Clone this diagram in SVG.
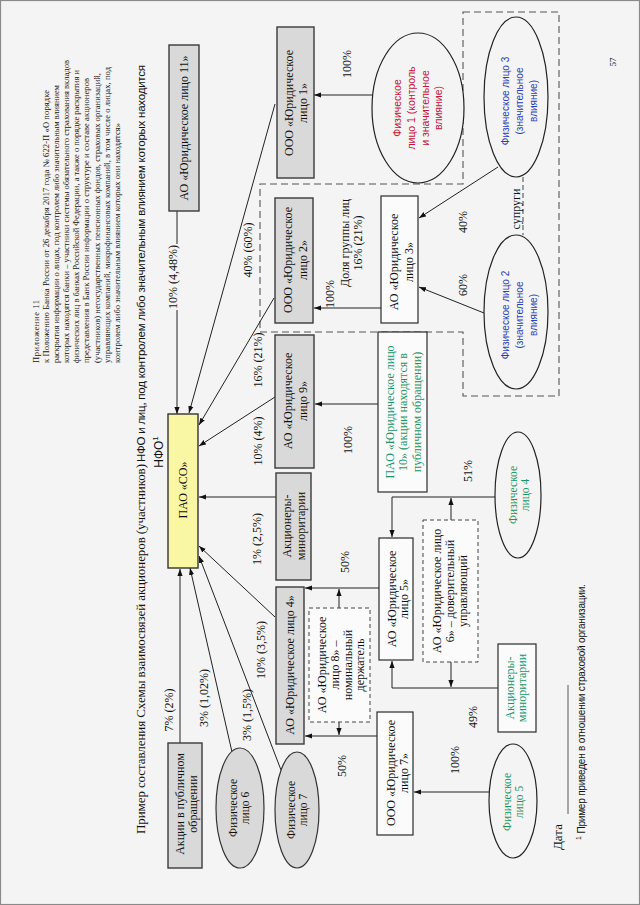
<svg xmlns="http://www.w3.org/2000/svg" width="640" height="905" viewBox="0 0 640 905">
<defs>
<marker id="a" viewBox="0 0 10 10" refX="10" refY="5" markerWidth="7" markerHeight="7" markerUnits="userSpaceOnUse" orient="auto"><path d="M0,1.3 L10,5 L0,8.7 z" fill="#111"/></marker>
<style>
.bg{fill:#f3f4f3}
.box{fill:#d9d9d9;stroke:#3a3a3a;stroke-width:1.4}
.wbox{fill:#fbfbfb;stroke:#2a2a2a;stroke-width:1.2}
.dbox{fill:#fbfbfb;stroke:#444;stroke-width:1;stroke-dasharray:4 3}
.ell{fill:#f3f4f3;stroke:#222;stroke-width:1.2}
.gell{fill:#d9d9d9;stroke:#333;stroke-width:1.2}
.yel{fill:#faf7a4;stroke:#333;stroke-width:1.4}
.edge{stroke:#222;stroke-width:1;fill:none;marker-end:url(#a)}
.grp{fill:none;stroke:#555;stroke-width:1.1;stroke-dasharray:7 4}
text{font-family:"Liberation Serif","Times New Roman",serif;font-size:12px;fill:#111;text-anchor:middle}
.sans{font-family:"Liberation Sans",Arial,sans-serif;font-size:10px}
.st{text-anchor:start}
.red{fill:#c0163c}
.blue{fill:#2b3fb5}
.grn{fill:#1a9466}
.hdr{font-size:8.5px}
</style>
</defs>
<rect class="bg" x="0" y="0" width="640" height="905"/>
<rect x="0.5" y="0.5" width="639" height="904" fill="none" stroke="#8a8a8a" stroke-width="1.2"/>

<!-- header -->
<g id="header">
<text class="hdr st" transform="translate(38.5 363) rotate(-90)"><tspan x="0" y="0" textLength="63">Приложение 11</tspan><tspan x="0" y="10.2" textLength="273">к Положению Банка России от 26 декабря 2017 года  № 622-П  «О порядке</tspan><tspan x="0" y="20.2" textLength="278">раскрытия информации о лицах, под контролем либо значительным влиянием</tspan><tspan x="0" y="30.5" textLength="303">которых находятся банки – участники системы обязательного страхования вкладов</tspan><tspan x="0" y="40.5" textLength="293">физических лиц в банках Российской Федерации, а также о порядке раскрытия и</tspan><tspan x="0" y="50.5" textLength="285">представления в Банк России информации  о структуре и составе акционеров</tspan><tspan x="0" y="61.2" textLength="290">(участников) негосударственных пенсионных фондов, страховых организаций,</tspan><tspan x="0" y="71.8" textLength="296">управляющих компаний,  микрофинансовых компаний, в том числе о лицах, под</tspan><tspan x="0" y="81.8" textLength="240">контролем либо значительным влиянием которых они находятся»</tspan></text>
</g>

<g id="title">
<text class="st" style="font-size:13px" transform="translate(145 834) rotate(-90)" textLength="370">Пример составления Схемы взаимосвязей акционеров (участников) </text>
<text class="st sans" style="font-size:11.5px" transform="translate(145 462) rotate(-90)" textLength="397">НФО и лиц, под контролем либо значительным влиянием которых находится</text>
<text class="sans" style="font-size:12px" transform="translate(163 452) rotate(-90)">НФО<tspan dy="-5" style="font-size:8px">1</tspan></text>
</g>

<!-- group boundary -->
<path class="grp" d="M463,12 H559 V396 H463 V332 H260 V184 H463 Z"/>
<line x1="523" y1="177" x2="523" y2="235" stroke="#555" stroke-width="1.1" stroke-dasharray="5 3"/>

<!-- connectors -->
<g id="connectors">
<path class="edge" d="M177,211 V414"/>
<path class="edge" d="M275,104 L189,413"/>
<path class="edge" d="M274,298 L199,425"/>
<path class="edge" d="M275,397 L199,446"/>
<path class="edge" d="M276,497 H199"/>
<path class="edge" d="M275,617 L199,546"/>
<path class="edge" d="M281,770 L199,556"/>
<path class="edge" d="M232,752 L190,568"/>
<path class="edge" d="M180,743 V569"/>
<path class="edge" d="M372,95 H314"/>
<path class="edge" d="M498,167 L419,218"/>
<path class="edge" d="M484,313 L419,287"/>
<path class="edge" d="M381,308 H314"/>
<path class="edge" d="M378,404 H315"/>
<path class="edge" d="M379,588 H305"/>
<path class="edge" d="M339,608 V589"/>
<path class="edge" d="M377,736 H305"/>
<path class="edge" d="M339,722 V735"/>
<path class="edge" d="M495,497 H392 V537"/>
<path class="edge" d="M451,520 V498"/>
<path class="edge" d="M498,688 H392 V661"/>
<path class="edge" d="M451,662 V687"/>
<path class="edge" d="M489,792 H414"/>
</g>

<!-- labels -->
<g id="labels">
<rect class="bg" x="166" y="244" width="16" height="66"/>
<text transform="translate(173 277) rotate(-90)" y="4.2">10% (4,48%)</text>
<text transform="translate(248 250) rotate(-90)" y="4.2">40% (60%)</text>
<text transform="translate(258 360) rotate(-90)" y="4.2">16% (21%)</text>
<text transform="translate(258 441) rotate(-90)" y="4.2">10% (4%)</text>
<text transform="translate(257 539) rotate(-90)" y="4.2">1% (2,5%)</text>
<text transform="translate(261 650) rotate(-90)" y="4.2">10% (3,5%)</text>
<text transform="translate(247 715) rotate(-90)" y="4.2">3% (1,5%)</text>
<text transform="translate(204 698) rotate(-90)" y="4.2">3% (1,02%)</text>
<text transform="translate(169 710) rotate(-90)" y="4.2">7% (2%)</text>
<text transform="translate(347 64) rotate(-90)" y="4.2">100%</text>
<text transform="translate(330 294) rotate(-90)" y="4.2">100%</text>
<text transform="translate(351 243) rotate(-90)"><tspan x="0" y="-2.3">Доля группы лиц</tspan><tspan x="0" y="10.7">16% (21%)</tspan></text>
<text transform="translate(463 222) rotate(-90)" y="4.2">40%</text>
<text transform="translate(463 285) rotate(-90)" y="4.2">60%</text>
<text transform="translate(516 209) rotate(-90)" y="4.2">супруги</text>
<text transform="translate(348 440) rotate(-90)" y="4.2">100%</text>
<text transform="translate(345 562) rotate(-90)" y="4.2">50%</text>
<text transform="translate(342 766) rotate(-90)" y="4.2">50%</text>
<text transform="translate(468 471) rotate(-90)" y="4.2">51%</text>
<text transform="translate(473 717) rotate(-90)" y="4.2">49%</text>
<text transform="translate(455 760) rotate(-90)" y="4.2">100%</text>
</g>

<!-- nodes -->
<g id="n-ao11"><rect class="box" x="169" y="45" width="30" height="166"/><text transform="translate(184 128) rotate(-90)" y="4.2">АО «Юридическое лицо 11»</text></g>
<g id="n-ooo1"><rect class="box" x="277" y="27" width="37" height="151"/><text transform="translate(296 103) rotate(-90)"><tspan x="0" y="-2.55">ООО «Юридическое</tspan><tspan x="0" y="10.95">лицо 1»</tspan></text></g>
<g id="n-fiz1"><ellipse class="ell" cx="418" cy="108" rx="46" ry="75"/><text class="sans red" style="font-size:10.5px" transform="translate(418 108) rotate(-90)"><tspan x="0" y="-16.9">Физическое</tspan><tspan x="0" y="-3.2">лицо 1 (контроль</tspan><tspan x="0" y="10.5">и значительное</tspan><tspan x="0" y="24.2">влияние)</tspan></text></g>
<g id="n-fiz3"><ellipse class="ell" cx="516" cy="97" rx="32" ry="80"/><text class="sans blue" transform="translate(519 101) rotate(-90)"><tspan x="0" y="-10.5">Физическое лицо 3</tspan><tspan x="0" y="3.5">(значительное</tspan><tspan x="0" y="17.5">влияние)</tspan></text></g>
<g id="n-fiz2"><ellipse class="ell" cx="516" cy="312" rx="32" ry="77"/><text class="sans blue" transform="translate(519 315) rotate(-90)"><tspan x="0" y="-10.5">Физическое лицо 2</tspan><tspan x="0" y="3.5">(значительное</tspan><tspan x="0" y="17.5">влияние)</tspan></text></g>
<g id="n-ao3"><rect class="wbox" x="381" y="196" width="37" height="127"/><text transform="translate(401 262) rotate(-90)"><tspan x="0" y="-3.5">АО «Юридическое</tspan><tspan x="0" y="12">лицо 3»</tspan></text></g>
<g id="n-ooo2"><rect class="box" x="275" y="198" width="38" height="125"/><text transform="translate(295 260) rotate(-90)"><tspan x="0" y="-3">ООО «Юридическое</tspan><tspan x="0" y="11.5">лицо 2»</tspan></text></g>
<g id="n-ao9"><rect class="box" x="275" y="335" width="39" height="133"/><text transform="translate(295 401) rotate(-90)"><tspan x="0" y="-3">АО «Юридическое</tspan><tspan x="0" y="11.5">лицо 9»</tspan></text></g>
<g id="n-pao10"><rect class="wbox" x="378" y="332" width="49" height="160"/><text class="grn" transform="translate(403 412) rotate(-90)"><tspan x="0" y="-9.3">ПАО «Юридическое лицо</tspan><tspan x="0" y="4.2">10» (акции находятся в</tspan><tspan x="0" y="17.7">публичном обращении)</tspan></text></g>
<g id="n-min1"><rect class="box" x="276" y="473" width="35" height="107"/><text transform="translate(294 526) rotate(-90)"><tspan x="0" y="-2.55">Акционеры-</tspan><tspan x="0" y="10.95">миноритарии</tspan></text></g>
<g id="n-so"><rect class="yel" x="168" y="414" width="30" height="154"/><text transform="translate(183 490) rotate(-90)" y="4.2">ПАО «СО»</text></g>
<g id="n-ao4"><rect class="box" x="276" y="587" width="28" height="157"/><text transform="translate(290 665) rotate(-90)" y="4.2">АО «Юридическое лицо 4»</text></g>
<g id="n-ao8"><rect class="dbox" x="309" y="608" width="61" height="114"/><text transform="translate(341 665) rotate(-90)"><tspan x="0" y="-14.85">АО «Юридическое</tspan><tspan x="0" y="-2.15">лицо 8» –</tspan><tspan x="0" y="10.55">номинальный</tspan><tspan x="0" y="23.25">держатель</tspan></text></g>
<g id="n-ao5"><rect class="wbox" x="379" y="538" width="34" height="122"/><text transform="translate(398 599) rotate(-90)"><tspan x="0" y="-2">АО «Юридическое</tspan><tspan x="0" y="10">лицо 5»</tspan></text></g>
<g id="n-ao6"><rect class="dbox" x="423" y="520" width="55" height="142"/><text transform="translate(450 591) rotate(-90)"><tspan x="0" y="-8.8">АО «Юридическое лицо</tspan><tspan x="0" y="4.2">6» – доверительный</tspan><tspan x="0" y="17.2">управляющий</tspan></text></g>
<g id="n-ooo7"><rect class="wbox" x="377" y="712" width="36" height="123"/><text transform="translate(397 773) rotate(-90)"><tspan x="0" y="-2.3">ООО «Юридическое</tspan><tspan x="0" y="10.7">лицо 7»</tspan></text></g>
<g id="n-fiz4"><ellipse class="ell" cx="518" cy="495" rx="23" ry="63"/><text class="grn" style="font-size:11.5px" transform="translate(519 495) rotate(-90)"><tspan x="0" y="-2">Физическое</tspan><tspan x="0" y="10">лицо 4</tspan></text></g>
<g id="n-min2"><rect class="wbox" x="498" y="644" width="38" height="88"/><text class="grn" transform="translate(516 688) rotate(-90)"><tspan x="0" y="-2">Акционеры-</tspan><tspan x="0" y="10">миноритарии</tspan></text></g>
<g id="n-fiz5"><ellipse class="ell" cx="513" cy="801" rx="24" ry="57"/><text class="grn" style="font-size:11.5px" transform="translate(513 802) rotate(-90)"><tspan x="0" y="-2.3">Физическое</tspan><tspan x="0" y="10.2">лицо 5</tspan></text></g>
<g id="n-akcii"><rect class="box" x="168" y="743" width="34" height="125"/><text transform="translate(186 804) rotate(-90)"><tspan x="0" y="-2.5">Акции в публичном</tspan><tspan x="0" y="10.5">обращении</tspan></text></g>
<g id="n-fiz6"><ellipse class="gell" cx="240" cy="808" rx="24" ry="60"/><text style="font-size:11.5px" transform="translate(239 808) rotate(-90)"><tspan x="0" y="-2.25">Физическое</tspan><tspan x="0" y="10.25">лицо 6</tspan></text></g>
<g id="n-fiz7"><ellipse class="gell" cx="297" cy="810" rx="22" ry="58"/><text style="font-size:11.5px" transform="translate(297 810) rotate(-90)"><tspan x="0" y="-2.25">Физическое</tspan><tspan x="0" y="10.25">лицо 7</tspan></text></g>

<!-- footer -->
<g id="footer">
<text class="st" style="font-size:13px" transform="translate(562 850) rotate(-90)">Дата</text>
<line x1="568" y1="685" x2="568" y2="814" stroke="#333" stroke-width="0.8"/>
<text class="sans st" transform="translate(585 840) rotate(-90)"><tspan style="font-size:7px" dy="-4">1</tspan><tspan dy="4" textLength="252"> Пример приведен в отношении страховой организации.</tspan></text>
<text style="font-size:9px" transform="translate(616 62) rotate(-90)">57</text>
</g>
</svg>
